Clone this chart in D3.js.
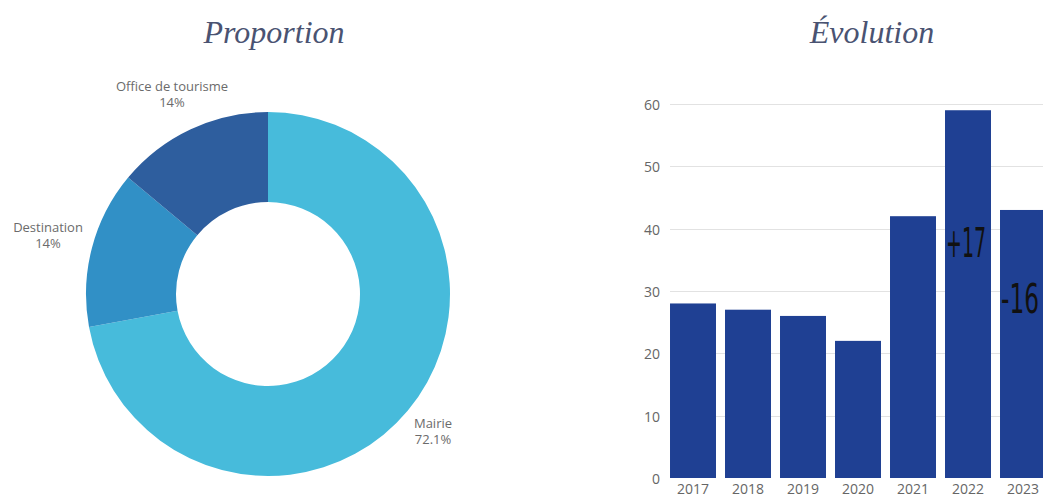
<!DOCTYPE html>
<html><head><meta charset="utf-8">
<script src="https://cdn.jsdelivr.net/npm/d3@7"></script>
<style>html,body{margin:0;padding:0;background:#fff;overflow:hidden}</style>
</head><body><svg id="c" width="1043" height="500"></svg>
<script>
// Donut data
const donutCategories = ["Mairie", "Destination", "Office de tourisme"];
const donutValues = [72.1, 13.95, 13.95];
const donutLabels = ["72.1%", "14%", "14%"];
const donutColors = ["#47bbdb", "#3190c6", "#2e5e9e"];

// Bar data
const years = ["2017", "2018", "2019", "2020", "2021", "2022", "2023"];
const counts = [28, 27, 26, 22, 42, 59, 43];
const yTicks = [0, 10, 20, 30, 40, 50, 60];
const annotYears = ["2022", "2023"];
const annotTexts = ["+17", "-16"];

const svg = d3.select("#c");

// Titles
const titleStyle = s => s.attr("font-family", "'Liberation Serif', 'DejaVu Serif', serif")
  .attr("font-style", "italic").attr("font-size", 32).attr("fill", "#4a5372")
  .attr("text-anchor", "middle");
svg.append("text").attr("x", 274).attr("y", 43).text("Proportion").call(titleStyle);
svg.append("text").attr("x", 872).attr("y", 43).text("Évolution").call(titleStyle);

// Donut
const cx = 268, cy = 294, R = 182, r = 92;
const pie = d3.pie().sort(null).value(d => d)(donutValues);
const arc = d3.arc().innerRadius(r).outerRadius(R);
const g = svg.append("g").attr("transform", `translate(${cx},${cy})`);
g.selectAll("path").data(pie).join("path")
  .attr("d", arc).attr("fill", (d, i) => donutColors[i]);

const labelPos = [[165, 134], [-220, -62], [-96, -203]];
pie.forEach((d, i) => {
  const t = g.append("text").attr("text-anchor", "middle")
    .attr("font-family", "'Open Sans', 'Noto Sans', sans-serif")
    .attr("font-size", 13).attr("fill", "#6b6b6b");
  t.append("tspan").attr("x", labelPos[i][0]).attr("y", labelPos[i][1]).text(donutCategories[i]);
  t.append("tspan").attr("x", labelPos[i][0]).attr("dy", 16).text(donutLabels[i]);
});

// Bars
const x = d3.scaleBand().domain(years).range([665.5, 1050.5]).paddingInner(0.164).paddingOuter(0.082);
const y = d3.scaleLinear().domain([0, 60]).range([478, 104]);

const grid = svg.append("g");
grid.selectAll("line").data(yTicks.filter(v => v > 0)).join("line")
  .attr("x1", 670).attr("x2", 1043)
  .attr("y1", d => Math.round(y(d)) + 0.5).attr("y2", d => Math.round(y(d)) + 0.5)
  .attr("stroke", "#e2e2e2").attr("stroke-width", 1);

svg.append("g").selectAll("text").data(yTicks).join("text")
  .attr("x", 660).attr("y", d => y(d) + 1).attr("dy", "0.35em")
  .attr("text-anchor", "end")
  .attr("font-family", "'Open Sans', 'Noto Sans', sans-serif")
  .attr("font-size", 14).attr("fill", "#666").text(d => d);

svg.append("g").selectAll("rect").data(years).join("rect")
  .attr("x", d => x(d)).attr("width", x.bandwidth())
  .attr("y", (d, i) => y(counts[i])).attr("height", (d, i) => y(0) - y(counts[i]))
  .attr("fill", "#1f4093");

svg.append("g").selectAll("text").data(years).join("text")
  .attr("x", d => x(d) + x.bandwidth() / 2).attr("y", 494)
  .attr("text-anchor", "middle")
  .attr("font-family", "'Open Sans', 'Noto Sans', sans-serif")
  .attr("font-size", 14).attr("fill", "#666").text(d => d);

// Annotations
const annotY = [257, 313];
const annotW = [40, 38];
annotYears.forEach((yr, i) => {
  const t = svg.append("text")
    .attr("font-family", "'Liberation Sans Narrow', 'DejaVu Sans Condensed', sans-serif")
    .attr("font-size", 40).attr("fill", "#111")
    .text(annotTexts[i]);
  const len = t.node().getComputedTextLength();
  const sx = annotW[i] / len;
  t.attr("transform", `translate(${x(yr) + 1},${annotY[i]}) scale(${sx},1)`);
});
</script></body></html>
